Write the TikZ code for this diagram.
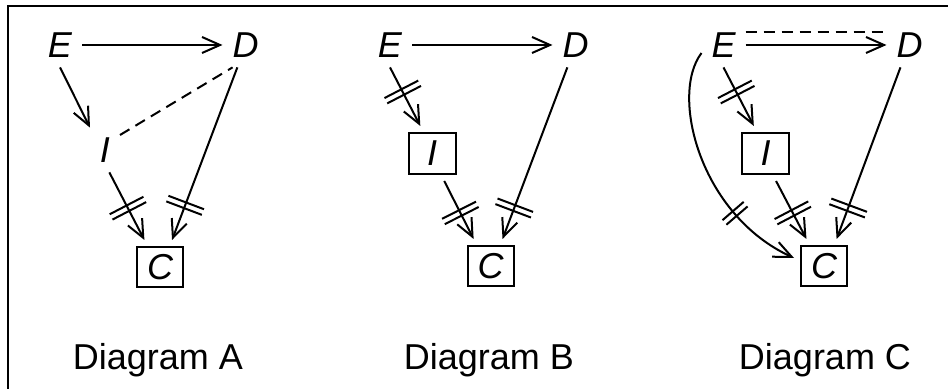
\documentclass[tikz,border=0pt]{standalone}
\usepackage{fontspec}
\setmainfont{Liberation Sans}
\usetikzlibrary{arrows.meta,decorations.markings,calc}
\begin{document}
\begin{tikzpicture}[x=0.5pt,y=-0.5pt,line width=1pt,
  lbl/.style={font=\fontsize{18}{22}\selectfont\itshape,inner sep=4.5pt},
  boxed/.style={font=\fontsize{18}{22}\selectfont\itshape,draw,minimum width=23pt,minimum height=20pt,inner sep=0pt,outer sep=3.5pt},
  boxedi/.style={boxed,minimum width=23.5pt,minimum height=20.5pt},
  arr/.style={-{Straight Barb[length=9pt,width=8pt]}},
  dbar/.style={postaction={decorate,decoration={markings,mark=at position #1 with {\draw[-] (-1.5pt,-9.5pt)--(-1.5pt,9.5pt) (1.5pt,-9.5pt)--(1.5pt,9.5pt);}}}},
  cbar/.style={postaction={decorate,decoration={markings,mark=at position #1 with {\draw[-] (-1.5pt,-7pt)--(-1.5pt,7pt) (1.5pt,-7pt)--(1.5pt,7pt);}}}},
  dsh/.style={dash pattern=on 5.5pt off 3.5pt},
  caption/.style={font=\fontsize{18}{22}\selectfont,anchor=base,inner sep=0pt}]
\useasboundingbox (0,0) rectangle (948,389);
% frame
\draw (8,389) -- (8,6) -- (948,6);

% Diagram A
\node[lbl] (Ea) at (60,45) {E};
\node[lbl] (Da) at (245.5,45) {D};
\node[lbl] (Ia) at (105,150) {I};
\node[boxed] (Ca) at (160,267) {C};
\draw[arr] (Ea) -- (Da);
\draw[arr] (Ea.south) -- (Ia.north west);
\draw[dsh] (Ia.45) -- (Da.240);
\draw[arr,dbar=0.53] (Ia.281) -- (Ca.120);
\draw[arr,dbar=0.8] (Da.250) -- (Ca.66);
\node[caption] (la) at (158,370) {Diagram A};

% Diagram B
\node[lbl] (Eb) at (390,45) {E};
\node[lbl] (Db) at (575.5,45) {D};
\node[boxedi] (Ib) at (432,153.5) {I};
\node[boxed] (Cb) at (490.5,266) {C};
\draw[arr] (Eb) -- (Db);
\draw[arr,dbar=0.42] (Eb.south) -- (Ib.113);
\draw[arr,dbar=0.55] (Ib.294) -- (Cb.122);
\draw[arr,dbar=0.82] (Db.250) -- (Cb.66);
\node[caption] (lb) at (489,370) {Diagram B};

% Diagram C
\node[lbl] (Ec) at (723.5,45) {E};
\node[lbl] (Dc) at (909.5,45) {D};
\node[boxedi] (Ic) at (765.5,153.5) {I};
\node[boxed] (Cc) at (824,266) {C};
\draw[dsh,shorten >=2pt] ([yshift=6.5pt]Ec.east) -- ([yshift=6.5pt]Dc.west);
\draw[arr] (Ec) -- (Dc);
\draw[arr,dbar=0.42] (Ec.south) -- (Ic.113);
\draw[arr,dbar=0.55] (Ic.291) -- (Cc.123);
\draw[arr,dbar=0.82] (Dc.248) -- (Cc.65);
\draw[arr,cbar=0.7] (Ec.200) .. controls ($(Ec.200)+(-32,42)$) and ($(Cc.165)+(-94,-43)$) .. (Cc.165);
\node[caption] (lc) at (825,370) {Diagram C};
\end{tikzpicture}
\end{document}
